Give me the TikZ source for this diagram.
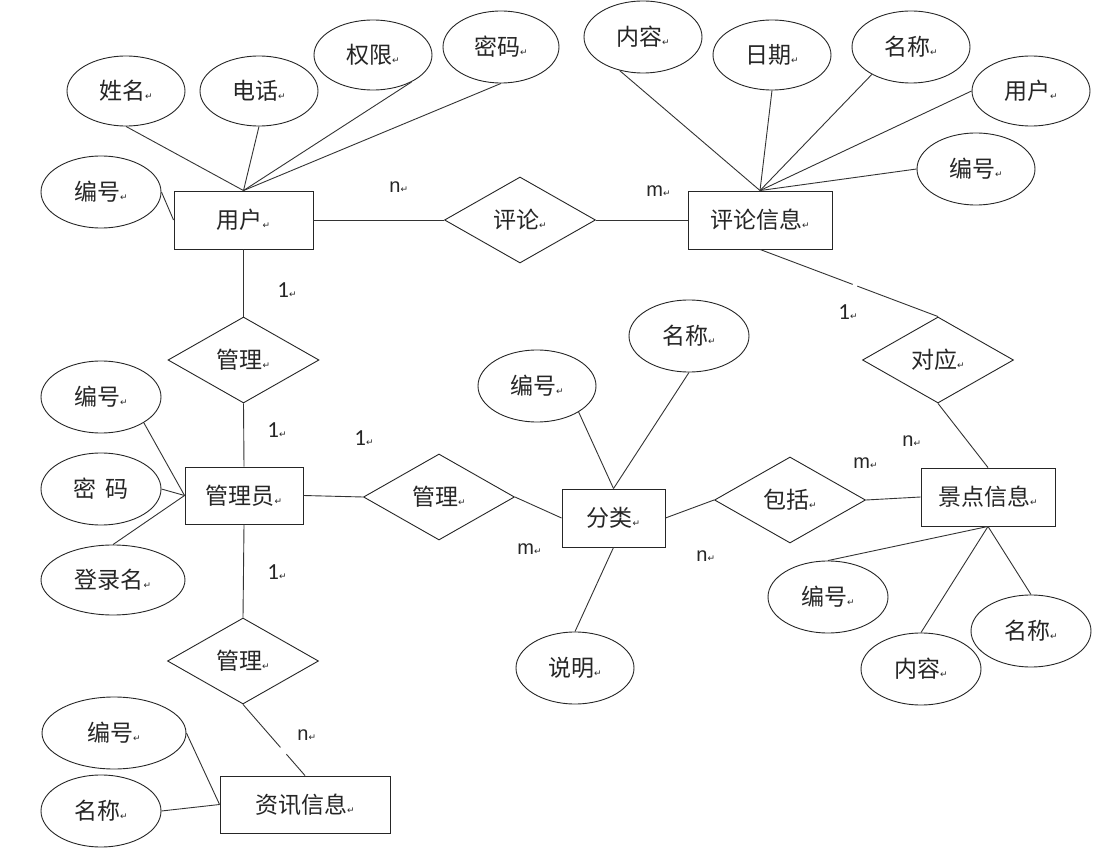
\documentclass[tikz,border=0pt]{standalone}
\usepackage{fontspec}
\newfontfamily\cjkf{Noto Sans CJK SC}
\newfontfamily\arialf{Liberation Sans}
\newfontfamily\carlf{Carlito}
\newfontfamily\djvf{DejaVu Sans}
\usetikzlibrary{shapes.geometric}
\newcommand\rmk{{\djvf\fontsize{9}{9}\selectfont ↵}}
\begin{document}
\begin{tikzpicture}[x=1pt,y=-1pt,
  line width=0.9pt,
  conn/.style={draw=black!80},
  ent/.style={draw=black!85, rectangle, inner sep=0, text=black!85,
    font=\cjkf\fontsize{23}{23}\selectfont},
  attr/.style={draw=black!85, ellipse, inner sep=0, text=black!85,
    font=\cjkf\fontsize{23}{23}\selectfont},
  rel/.style={draw=black!85, diamond, aspect=1.76, inner sep=0, text=black!85,
    minimum width=151, minimum height=86,
    font=\cjkf\fontsize{23}{23}\selectfont},
  lbl/.style={anchor=base west, inner sep=0, text=black!85,
    font=\arialf\fontsize{20}{20}\selectfont},
  lblo/.style={anchor=base west, inner sep=0, text=black!85,
    font=\carlf\fontsize{23}{23}\selectfont}]
\fill[white] (0,0) rectangle (1117,866);
\useasboundingbox (0,0) rectangle (1117,866);

% entities
\node[ent, minimum width=139, minimum height=58] (user) at (243.5,220) {用户\rmk};
\node[ent, minimum width=144, minimum height=58] (rinfo) at (760,220) {评论信息\rmk};
\node[ent, minimum width=118, minimum height=57] (admin) at (244,495.5) {管理员\rmk};
\node[ent, minimum width=103, minimum height=58] (cat) at (613.5,518) {分类\rmk};
\node[ent, minimum width=134, minimum height=58] (spot) at (988,497) {景点信息\rmk};
\node[ent, minimum width=170, minimum height=57] (news) at (305,804.5) {资讯信息\rmk};

% relationships
\node[rel] (pl) at (520,220) {评论\rmk};
\node[rel] (m1) at (243.5,360) {管理\rmk};
\node[rel] (m2) at (439,497) {管理\rmk};
\node[rel] (m3) at (243,661) {管理\rmk};
\node[rel] (bk) at (790,500) {包括\rmk};
\node[rel] (dy) at (938,360) {对应\rmk};

% attributes
\node[attr, minimum width=118, minimum height=70] (u_name) at (126,91) {姓名\rmk};
\node[attr, minimum width=118, minimum height=70] (u_tel) at (259,91) {电话\rmk};
\node[attr, minimum width=118, minimum height=70] (u_perm) at (373,55) {权限\rmk};
\node[attr, minimum width=116, minimum height=72] (u_pwd) at (501,47) {密码\rmk};
\node[attr, minimum width=120, minimum height=72] (u_id) at (101,192) {编号\rmk};

\node[attr, minimum width=118, minimum height=72] (r_content) at (643,37) {内容\rmk};
\node[attr, minimum width=118, minimum height=70] (r_date) at (772,55) {日期\rmk};
\node[attr, minimum width=118, minimum height=72] (r_name) at (911,47) {名称\rmk};
\node[attr, minimum width=118, minimum height=70] (r_user) at (1031,91) {用户\rmk};
\node[attr, minimum width=118, minimum height=72] (r_id) at (976,169) {编号\rmk};

\node[attr, minimum width=120, minimum height=72] (a_id) at (101,397) {编号\rmk};
\node[attr, minimum width=120, minimum height=72] (a_pwd) at (101,489) {密\hspace{9pt}码};
\node[attr, minimum width=144, minimum height=70] (a_login) at (113,580) {登录名\rmk};

\node[attr, minimum width=118, minimum height=72] (c_id) at (537,386) {编号\rmk};
\node[attr, minimum width=120, minimum height=72] (c_name) at (689,336) {名称\rmk};
\node[attr, minimum width=118, minimum height=72] (c_desc) at (575,668) {说明\rmk};

\node[attr, minimum width=120, minimum height=72] (s_id) at (828,597) {编号\rmk};
\node[attr, minimum width=120, minimum height=72] (s_content) at (921,669) {内容\rmk};
\node[attr, minimum width=120, minimum height=72] (s_name) at (1031,631) {名称\rmk};

\node[attr, minimum width=144, minimum height=72] (n_id) at (114,733) {编号\rmk};
\node[attr, minimum width=120, minimum height=72] (n_name) at (101,811) {名称\rmk};

% connectors
\draw[conn] (u_name.south) -- (user.north);
\draw[conn] (u_tel.south) -- (user.north);
\draw[conn] (u_perm.-35) -- (user.north);
\draw[conn] (u_pwd.south) -- (user.north);
\draw[conn] (u_id.east) -- (user.west);
\draw[conn] (user.east) -- (pl.west);
\draw[conn] (pl.east) -- (rinfo.west);
\draw[conn] (r_content.-125) -- (rinfo.north);
\draw[conn] (r_date.south) -- (rinfo.north);
\draw[conn] (r_name.-145) -- (rinfo.north);
\draw[conn] (r_user.west) -- (rinfo.north);
\draw[conn] (r_id.west) -- (rinfo.north);
\draw[conn, dash pattern=on 99pt off 5pt on 300pt] (rinfo.south) -- (dy.north);
\draw[conn] (dy.south) -- (spot.north);
\draw[conn] (spot.south) -- (s_id.north);
\draw[conn] (spot.south) -- (s_content.north);
\draw[conn] (spot.south) -- (s_name.north);
\draw[conn] (bk.east) -- (spot.west);
\draw[conn] (cat.east) -- (bk.west);
\draw[conn] (m2.east) -- (cat.west);
\draw[conn] (admin.east) -- (m2.west);
\draw[conn] (c_id.-32) -- (cat.north);
\draw[conn] (c_name.south) -- (cat.north);
\draw[conn] (cat.south) -- (c_desc.north);
\draw[conn] (user.south) -- (m1.north);
\draw[conn] (m1.south) -- (admin.north);
\draw[conn] (admin.south) -- (m3.north);
\draw[conn, dash pattern=on 57pt off 9pt on 300pt] (m3.south) -- (news.north);
\draw[conn] (a_id.-31) -- (admin.west);
\draw[conn] (a_pwd.east) -- (admin.west);
\draw[conn] (a_login.north) -- (admin.west);
\draw[conn] (n_id.east) -- (news.west);
\draw[conn] (n_name.east) -- (news.west);

% cardinalities
\node[lbl] (c1) at (389,193) {n\rmk};
\node[lbl] (c2) at (646,197) {m\rmk};
\node[lblo] (c3) at (277,298) {1\rmk};
\node[lblo] (c4) at (267,438) {1\rmk};
\node[lblo] (c5) at (354,446) {1\rmk};
\node[lblo] (c6) at (267,579) {1\rmk};
\node[lbl] (c7) at (517,554) {m\rmk};
\node[lbl] (c8) at (297,740) {n\rmk};
\node[lblo] (c9) at (838,320) {1\rmk};
\node[lbl] (c10) at (902,447) {n\rmk};
\node[lbl] (c11) at (853,468) {m\rmk};
\node[lbl] (c12) at (696,561) {n\rmk};
\end{tikzpicture}
\end{document}
